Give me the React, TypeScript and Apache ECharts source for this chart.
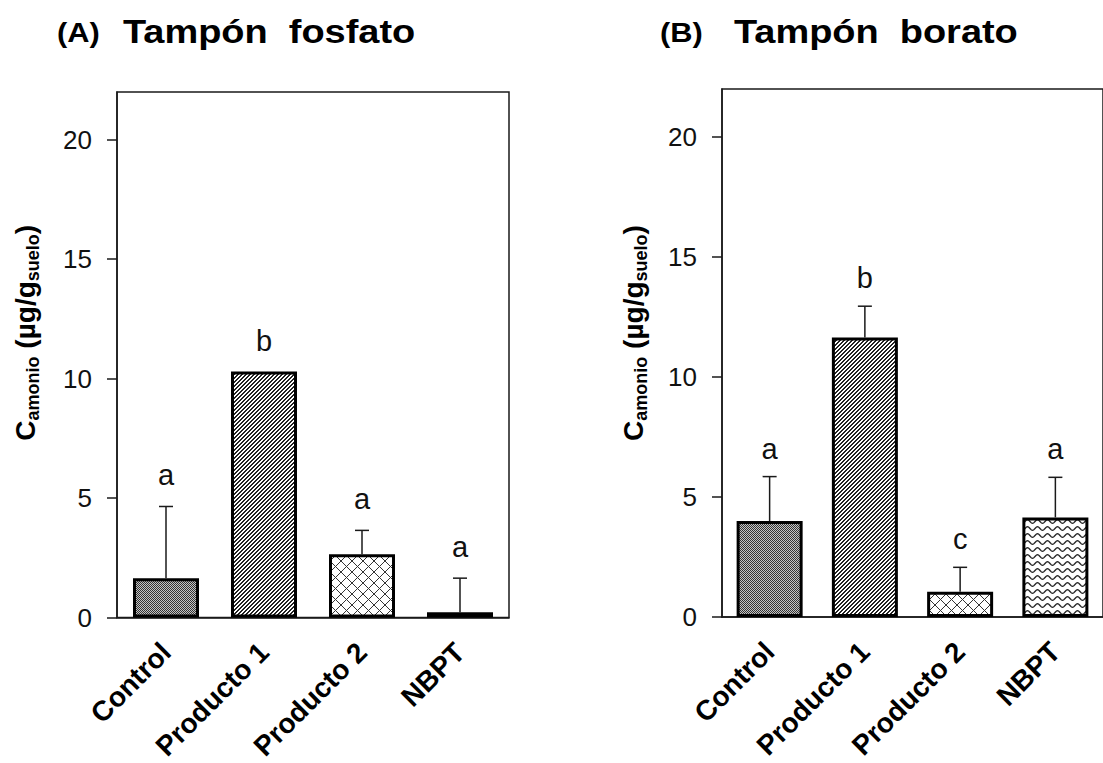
import React, { useEffect, useRef } from 'react';
import * as echarts from 'echarts';

// Treatments and ammonium concentration (µg/g soil) with upper error bars
const categories = ['Control', 'Producto 1', 'Producto 2', 'NBPT'];
const yTicks = [0, 5, 10, 15, 20];

const fosfatoMeans = [1.65, 10.3, 2.65, 0.22];
const fosfatoErrors = [3.0, 0, 1.0, 1.43];
const fosfatoLetters = ['a', 'b', 'a', 'a'];

const boratoMeans = [4.0, 11.65, 1.05, 4.15];
const boratoErrors = [1.85, 1.3, 1.02, 1.67];
const boratoLetters = ['a', 'b', 'c', 'a'];

const FONT = '"Liberation Sans", Arial, sans-serif';
const INK = '#1a1a1a';

type Painter = (ctx: CanvasRenderingContext2D) => void;

function tile(w: number, h: number, paint: Painter) {
  const c = document.createElement('canvas');
  c.width = w;
  c.height = h;
  const ctx = c.getContext('2d') as CanvasRenderingContext2D;
  ctx.fillStyle = '#ffffff';
  ctx.fillRect(0, 0, w, h);
  paint(ctx);
  return { image: c.toDataURL(), repeat: 'repeat', imageWidth: w, imageHeight: h };
}

function buildPatterns() {
  // fine stipple
  const stipple = tile(2, 2, (ctx) => {
    ctx.fillStyle = '#c4c4c4';
    ctx.fillRect(0, 0, 2, 2);
    ctx.fillStyle = '#333333';
    ctx.fillRect(0, 0, 1, 1);
    ctx.fillRect(1, 1, 1, 1);
  });
  // dense forward diagonal hatch
  const hatch = tile(4, 4, (ctx) => {
    ctx.fillStyle = '#222222';
    for (let x = 0; x < 4; x++) {
      ctx.fillRect(x, 3 - x, 1, 1);
      ctx.fillRect(x, (4 - x) % 4, 1, 1);
    }
  });
  // diamond cross-hatch
  const cross = tile(11, 11, (ctx) => {
    ctx.fillStyle = '#333333';
    for (let x = 0; x < 11; x++) {
      ctx.fillRect(x, x, 1, 1);
      ctx.fillRect(x, 10 - x, 1, 1);
    }
  });
  // horizontal waves
  const wave = tile(10, 7, (ctx) => {
    ctx.strokeStyle = '#222222';
    ctx.lineWidth = 1.3;
    ctx.beginPath();
    for (let x = -1; x <= 11; x += 0.5) {
      const y = 3.5 + 1.8 * Math.sin((2 * Math.PI * x) / 10);
      if (x === -1) ctx.moveTo(x, y);
      else ctx.lineTo(x, y);
    }
    ctx.stroke();
  });
  return [stipple, hatch, cross, wave];
}

const axisLineStyle = { color: INK, width: 1.5 };

function yName() {
  return '{m|C}{s|amonio}{m| (µg/g}{s|suelo}{m|)}';
}

function makeGrid(left: number, top: number) {
  return {
    left,
    top,
    width: 392,
    height: 528,
    show: true,
    borderColor: INK,
    borderWidth: 1.5,
    backgroundColor: 'transparent',
  };
}

function makeXAxis(gridIndex: number) {
  return {
    type: 'category',
    gridIndex,
    data: categories,
    axisTick: { show: false },
    axisLine: { lineStyle: axisLineStyle },
    axisLabel: {
      interval: 0,
      rotate: 45,
      margin: 30,
      fontSize: 28,
      fontWeight: 'bold',
      color: '#000',
      fontFamily: FONT,
    },
  };
}

function makeYAxis(gridIndex: number, nameGap: number, shiftUp: number) {
  return {
    type: 'value',
    gridIndex,
    min: 0,
    max: 22,
    interval: 5,
    splitLine: { show: false },
    axisLine: { show: true, lineStyle: axisLineStyle },
    axisTick: { show: true, length: 10, lineStyle: axisLineStyle, customValues: yTicks },
    axisLabel: { margin: 25, fontSize: 26, color: '#111', fontFamily: FONT, customValues: yTicks },
    name: yName(),
    nameLocation: 'middle',
    nameRotate: 90,
    nameGap,
    nameTextStyle: {
      fontFamily: FONT,
      fontWeight: 'bold',
      color: '#000',
      padding: [0, 0, 0, shiftUp * 2],
      rich: {
        m: { fontSize: 28, fontWeight: 'bold', fontFamily: FONT, color: '#000' },
        s: { fontSize: 18, fontWeight: 'bold', fontFamily: FONT, color: '#000', padding: [16, 0, 0, 0] },
      },
    },
  };
}

function barSeries(axisIndex: number, means: number[], patterns: any[]) {
  return {
    type: 'bar',
    xAxisIndex: axisIndex,
    yAxisIndex: axisIndex,
    barWidth: 66,
    silent: true,
    itemStyle: { borderColor: '#000', borderWidth: 3 },
    data: means.map((v, i) => ({ value: v, itemStyle: { color: patterns[i] } })),
  };
}

function errorSeries(axisIndex: number, means: number[], errors: number[], letters: string[], letterGap: number) {
  return {
    type: 'custom',
    xAxisIndex: axisIndex,
    yAxisIndex: axisIndex,
    z: 10,
    silent: true,
    encode: { x: 0, y: 1 },
    data: means.map((v, i) => [i, v, errors[i]]),
    renderItem: (params: any, api: any) => {
      const i = api.value(0);
      const v = api.value(1);
      const e = api.value(2);
      const base = api.coord([i, v]);
      const tip = api.coord([i, v + e]);
      const children: any[] = [];
      if (e > 0) {
        children.push({
          type: 'line',
          shape: { x1: base[0], y1: base[1], x2: tip[0], y2: tip[1] },
          style: { stroke: INK, lineWidth: 1.5 },
        });
        children.push({
          type: 'line',
          shape: { x1: tip[0] - 7, y1: tip[1], x2: tip[0] + 7, y2: tip[1] },
          style: { stroke: INK, lineWidth: 1.5 },
        });
      }
      children.push({
        type: 'text',
        x: tip[0],
        y: tip[1] - letterGap,
        style: {
          text: letters[params.dataIndex],
          fill: '#111',
          fontSize: 29,
          fontFamily: FONT,
          align: 'center',
          verticalAlign: 'middle',
        },
      });
      return { type: 'group', children };
    },
  };
}

function titleText(x: number, text: string, size: number, scaleX: number) {
  return {
    type: 'text',
    x,
    y: 32,
    scaleX,
    style: {
      text,
      fontSize: size,
      fontWeight: 'bold',
      fontFamily: FONT,
      fill: '#000',
      verticalAlign: 'middle',
    },
  };
}

export default function App() {
  const ref = useRef<HTMLDivElement>(null);

  useEffect(() => {
    if (!ref.current) return;
    const chart = echarts.init(ref.current, undefined, { renderer: 'svg' });
    const patterns = buildPatterns();

    chart.setOption({
      animation: false,
      backgroundColor: '#ffffff',
      textStyle: { fontFamily: FONT },
      grid: [makeGrid(117, 92), makeGrid(722, 89)],
      xAxis: [makeXAxis(0), makeXAxis(1)],
      yAxis: [makeYAxis(0, 75, 22), makeYAxis(1, 72, 20)],
      series: [
        barSeries(0, fosfatoMeans, patterns),
        errorSeries(0, fosfatoMeans, fosfatoErrors, fosfatoLetters, 31),
        barSeries(1, boratoMeans, patterns),
        errorSeries(1, boratoMeans, boratoErrors, boratoLetters, 28),
      ],
      graphic: [
        titleText(57, '(A)', 28, 1.1),
        titleText(123, 'Tampón \u00a0fosfato', 33, 1.15),
        titleText(660, '(B)', 28, 1.1),
        titleText(734, 'Tampón \u00a0borato', 33, 1.15),
      ],
    });

    return () => chart.dispose();
  }, []);

  return (
    <div
      ref={ref}
      style={{ position: 'fixed', left: 0, top: 0, width: 1103, height: 763, background: '#fff' }}
    />
  );
}
